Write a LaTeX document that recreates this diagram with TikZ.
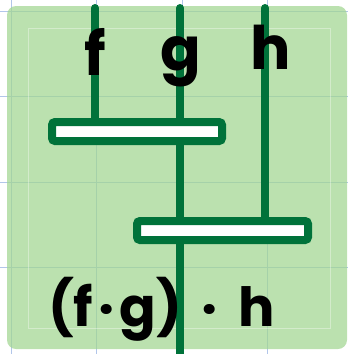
\documentclass[tikz,border=0pt]{standalone}
\usepackage{fontspec}
\setsansfont{Poppins}
\usepackage{xcolor}
\usepackage{tikz}
\usetikzlibrary{positioning}

\definecolor{wiregreen}{RGB}{0,114,58}
\definecolor{boardgreen}{RGB}{161,214,144}
\definecolor{gridblue}{RGB}{178,198,234}

\begin{document}
\begin{tikzpicture}[x=1pt, y=-1pt, font=\sffamily\bfseries,
    wire/.style={draw=wiregreen, line width=8pt},
    bar/.style={draw=wiregreen, fill=white, line width=8pt, rounded corners=3pt, minimum width=170pt, minimum height=19pt, inner sep=0pt},
    lbl/.style={text=black, font=\fontsize{60}{60}\sffamily\bfseries, inner sep=0pt},
    expr/.style={text=black, font=\fontsize{54}{54}\sffamily\bfseries, inner sep=0pt}]

\useasboundingbox (0,0) rectangle (348,354);

% paper grid and board
\foreach \k in {0,1,2,3} {
  \draw[gridblue, line width=1pt] (11+85.5*\k,0) -- (11+85.5*\k,354);
  \draw[gridblue, line width=1pt] (0,11+85.5*\k) -- (348,11+85.5*\k);
}
\fill[boardgreen, fill opacity=0.72, rounded corners=9pt] (7,6) rectangle (347,349);
\draw[white, opacity=0.35, line width=0.8pt] (28,28) rectangle (330,328);

% wire ends
\coordinate (ftop) at (95,8);
\coordinate (gtop) at (180,8);
\coordinate (htop) at (265,8);
\coordinate (gbot) at (180,358);
\coordinate (fend) at (95,131);
\coordinate (hend) at (265,230);

% wires
\draw[wire, line cap=round] (ftop) -- (fend);
\draw[wire, line cap=round] (gtop) -- (gbot);
\draw[wire, line cap=round] (htop) -- (hend);

% boxes
\node[bar, minimum width=170pt] (fg) at (137,131.5) {};
\node[bar, minimum width=171pt] (fgh) at (222.5,230.5) {};

% labels
\node[lbl] (f) at (95,52) {f};
\node[lbl] (g) at (181,62) {g};
\node[lbl] (h) at (271,47) {h};
\node[expr, anchor=base west] (res) at (48,326) {(f\hspace{5pt}·\hspace{5pt}g)\hspace{20pt}·\hspace{20pt}h};
\end{tikzpicture}
\end{document}
